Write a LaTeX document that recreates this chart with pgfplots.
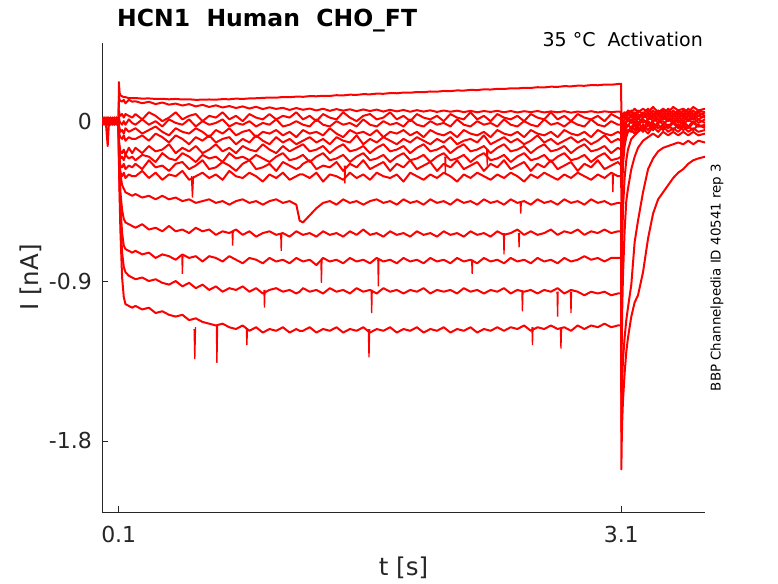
\documentclass[border=0pt]{standalone}
\usepackage{fontspec}
\setmainfont{DejaVu Sans}
\usepackage{pgfplots}
\usepackage{pgfplotstable}
\pgfplotsset{compat=1.18}
\definecolor{axgray}{HTML}{262626}
\pgfplotsset{tr/.style={color=red, line width=2pt, mark=none, solid, line join=round}}
\pgfplotsset{sp/.style={color=red, line width=1.3pt, mark=none, solid}}

\pgfplotstableread{
t a1 a2 a3 a4 a5 a6 a7 a8 a9 a10 e d c b aa
0.000 0.01 0.00 -0.01 0.02 -0.01 0.01 -0.02 0.00 0.01 -0.01 0.02 -0.01 0.00 0.01 -0.02
0.012 -0.01 0.02 0.01 -0.01 0.00 -0.02 0.01 0.02 -0.01 0.00 -0.01 0.01 0.02 -0.01 0.00
0.024 0.02 -0.01 0.00 0.01 -0.02 0.00 0.02 -0.01 0.00 0.02 0.00 -0.02 0.01 0.00 0.01
0.034 0.00 0.01 -0.02 0.00 -0.14 0.01 -0.01 0.01 0.02 -0.02 0.01 0.00 -0.01 0.02 -0.01
0.040 0.01 -0.02 0.01 0.02 -0.03 -0.01 0.00 -0.02 0.01 0.01 -0.01 0.02 0.00 -0.01 0.01
0.050 -0.02 0.01 0.02 -0.01 0.01 0.02 -0.01 0.00 -0.02 0.00 0.01 -0.01 0.02 0.01 -0.01
0.062 0.01 0.00 -0.01 0.01 0.00 -0.01 0.02 0.01 0.00 -0.02 0.00 0.01 -0.02 0.00 0.02
0.074 0.00 0.02 0.01 -0.02 0.02 0.00 -0.01 -0.01 0.02 0.01 -0.02 0.00 0.01 -0.01 0.00
0.086 0.02 -0.01 0.00 0.01 -0.01 0.02 0.00 0.02 -0.01 0.00 0.01 -0.02 0.00 0.02 -0.01
0.0995 0.00 0.01 -0.01 0.00 0.01 -0.01 0.01 0.00 0.01 -0.01 0.00 0.01 -0.01 0.00 0.01
0.1005 0.22 0.14 0.06 0.02 -0.02 -0.05 -0.10 -0.12 -0.15 -0.18 -0.10 -0.12 -0.14 -0.16 -0.20
0.105 0.16 0.12 0.04 0.00 -0.04 -0.08 -0.14 -0.18 -0.22 -0.26 -0.22 -0.28 -0.32 -0.36 -0.42
0.110 0.145 0.115 0.03 -0.01 -0.06 -0.09 -0.17 -0.21 -0.25 -0.29 -0.30 -0.40 -0.48 -0.55 -0.62
0.120 0.14 0.11 0.04 -0.02 -0.05 -0.10 -0.18 -0.20 -0.26 -0.31 -0.36 -0.50 -0.63 -0.74 -0.88
0.130 0.135 0.12 0.02 0.00 -0.07 -0.08 -0.16 -0.22 -0.24 -0.29 -0.38 -0.55 -0.70 -0.82 -0.99
0.140 0.135 0.10 0.04 -0.02 -0.04 -0.11 -0.19 -0.19 -0.27 -0.32 -0.40 -0.57 -0.72 -0.85 -1.03
0.160 0.13 0.12 0.03 0.01 -0.06 -0.09 -0.15 -0.21 -0.25 -0.30 -0.41 -0.58 -0.73 -0.87 -1.04
0.180 0.13 0.11 0.02 -0.01 -0.05 -0.10 -0.18 -0.20 -0.26 -0.31 -0.42 -0.59 -0.74 -0.88 -1.05
0.20 0.130 0.112 0.04 -0.02 -0.04 -0.10 -0.15 -0.22 -0.24 -0.31 -0.41 -0.60 -0.73 -0.89 -1.04
0.24 0.127 0.101 0.01 0.01 -0.07 -0.08 -0.18 -0.19 -0.27 -0.28 -0.43 -0.58 -0.75 -0.88 -1.06
0.28 0.128 0.109 0.05 -0.02 -0.05 -0.11 -0.14 -0.20 -0.22 -0.32 -0.42 -0.61 -0.74 -0.90 -1.05
0.32 0.125 0.096 0.03 0.00 -0.03 -0.07 -0.17 -0.23 -0.26 -0.29 -0.44 -0.60 -0.77 -0.89 -1.08
0.36 0.126 0.105 0.00 -0.03 -0.06 -0.09 -0.16 -0.18 -0.25 -0.33 -0.42 -0.62 -0.75 -0.91 -1.07
0.40 0.123 0.093 0.02 0.01 -0.08 -0.12 -0.13 -0.21 -0.28 -0.30 -0.44 -0.59 -0.76 -0.92 -1.09
0.44 0.125 0.099 0.05 -0.01 -0.04 -0.08 -0.18 -0.22 -0.24 -0.31 -0.43 -0.62 -0.78 -0.90 -1.10
0.48 0.122 0.088 0.01 -0.02 -0.06 -0.10 -0.15 -0.18 -0.23 -0.28 -0.45 -0.61 -0.75 -0.93 -1.09
0.52 0.123 0.096 0.03 0.01 -0.07 -0.13 -0.17 -0.20 -0.27 -0.33 -0.44 -0.63 -0.77 -0.91 -1.12
0.56 0.120 0.083 0.04 -0.03 -0.04 -0.09 -0.14 -0.23 -0.25 -0.31 -0.46 -0.60 -0.76 -0.94 -1.11
0.60 0.121 0.092 0.00 0.00 -0.06 -0.11 -0.18 -0.19 -0.22 -0.29 -0.45 -0.62 -0.79 -0.92 -1.13
0.64 0.122 0.080 0.03 -0.02 -0.09 -0.08 -0.16 -0.21 -0.27 -0.32 -0.44 -0.61 -0.76 -0.95 -1.14
0.68 0.121 0.089 0.02 -0.01 -0.05 -0.12 -0.13 -0.20 -0.26 -0.30 -0.46 -0.64 -0.77 -0.93 -1.15
0.72 0.124 0.077 0.05 0.01 -0.07 -0.10 -0.17 -0.23 -0.23 -0.33 -0.45 -0.62 -0.79 -0.96 -1.14
0.76 0.123 0.085 0.01 -0.03 -0.04 -0.09 -0.15 -0.18 -0.25 -0.28 -0.47 -0.63 -0.76 -0.94 -1.16
0.80 0.127 0.074 0.03 -0.01 -0.08 -0.13 -0.18 -0.21 -0.28 -0.31 -0.45 -0.61 -0.78 -0.95 -1.17
0.84 0.125 0.083 0.00 -0.02 -0.06 -0.10 -0.14 -0.20 -0.24 -0.32 -0.44 -0.64 -0.80 -0.93 -1.15
0.88 0.128 0.071 0.04 0.00 -0.05 -0.12 -0.16 -0.22 -0.22 -0.29 -0.46 -0.62 -0.77 -0.96 -1.18
0.92 0.129 0.081 0.02 -0.03 -0.09 -0.08 -0.17 -0.19 -0.27 -0.31 -0.45 -0.65 -0.78 -0.94 -1.16
0.96 0.131 0.068 0.01 -0.01 -0.06 -0.11 -0.13 -0.21 -0.26 -0.34 -0.47 -0.63 -0.80 -0.97 -1.19
1.00 0.133 0.078 0.04 -0.02 -0.07 -0.13 -0.16 -0.23 -0.24 -0.30 -0.45 -0.62 -0.77 -0.95 -1.17
1.04 0.132 0.069 0.01 0.01 -0.05 -0.09 -0.18 -0.20 -0.28 -0.32 -0.44 -0.64 -0.79 -0.94 -1.18
1.08 0.136 0.075 0.03 -0.03 -0.08 -0.12 -0.14 -0.18 -0.23 -0.29 -0.46 -0.63 -0.78 -0.96 -1.16
1.12 0.135 0.063 0.02 -0.02 -0.06 -0.10 -0.17 -0.22 -0.25 -0.33 -0.45 -0.65 -0.80 -0.95 -1.19
1.16 0.138 0.074 0.05 0.00 -0.09 -0.13 -0.15 -0.21 -0.27 -0.31 -0.47 -0.62 -0.77 -0.97 -1.17
1.18 0.138 0.069 0.03 -0.01 -0.07 -0.12 -0.14 -0.20 -0.26 -0.30 -0.56 -0.63 -0.78 -0.96 -1.18
1.20 0.137 0.064 0.01 -0.02 -0.05 -0.11 -0.13 -0.19 -0.24 -0.30 -0.57 -0.64 -0.79 -0.94 -1.18
1.24 0.141 0.071 0.03 -0.03 -0.07 -0.09 -0.17 -0.23 -0.22 -0.32 -0.53 -0.63 -0.78 -0.96 -1.16
1.28 0.140 0.060 0.00 0.01 -0.06 -0.12 -0.16 -0.20 -0.27 -0.29 -0.49 -0.65 -0.81 -0.95 -1.19
1.32 0.143 0.070 0.04 -0.02 -0.08 -0.10 -0.14 -0.18 -0.25 -0.34 -0.46 -0.62 -0.77 -0.97 -1.17
1.36 0.142 0.058 0.02 -0.03 -0.04 -0.13 -0.18 -0.22 -0.26 -0.30 -0.45 -0.64 -0.79 -0.94 -1.18
1.40 0.146 0.068 0.01 0.00 -0.07 -0.09 -0.15 -0.21 -0.23 -0.31 -0.47 -0.63 -0.78 -0.96 -1.16
1.44 0.145 0.059 0.05 -0.02 -0.09 -0.11 -0.13 -0.19 -0.28 -0.33 -0.44 -0.65 -0.80 -0.95 -1.19
1.48 0.149 0.067 0.02 -0.01 -0.05 -0.12 -0.17 -0.23 -0.24 -0.29 -0.46 -0.62 -0.77 -0.97 -1.17
1.52 0.148 0.056 0.00 -0.03 -0.07 -0.08 -0.16 -0.20 -0.26 -0.32 -0.45 -0.64 -0.79 -0.94 -1.18
1.56 0.152 0.066 0.03 0.01 -0.06 -0.13 -0.14 -0.18 -0.22 -0.30 -0.47 -0.61 -0.78 -0.96 -1.16
1.60 0.151 0.057 0.04 -0.02 -0.08 -0.10 -0.18 -0.22 -0.27 -0.33 -0.45 -0.64 -0.80 -0.95 -1.19
1.64 0.155 0.065 0.01 -0.03 -0.05 -0.12 -0.15 -0.21 -0.25 -0.29 -0.44 -0.63 -0.77 -0.97 -1.17
1.68 0.154 0.054 0.02 0.00 -0.09 -0.09 -0.13 -0.19 -0.23 -0.31 -0.46 -0.65 -0.79 -0.94 -1.18
1.72 0.158 0.064 0.05 -0.02 -0.06 -0.11 -0.17 -0.23 -0.28 -0.32 -0.45 -0.62 -0.78 -0.96 -1.16
1.76 0.157 0.055 0.01 -0.01 -0.07 -0.13 -0.16 -0.20 -0.24 -0.30 -0.47 -0.64 -0.80 -0.95 -1.19
1.80 0.161 0.063 0.03 -0.03 -0.05 -0.10 -0.14 -0.18 -0.26 -0.34 -0.44 -0.63 -0.77 -0.97 -1.17
1.84 0.160 0.053 0.00 0.01 -0.08 -0.12 -0.18 -0.22 -0.22 -0.29 -0.46 -0.65 -0.79 -0.95 -1.18
1.88 0.164 0.062 0.04 -0.02 -0.06 -0.09 -0.15 -0.21 -0.27 -0.31 -0.45 -0.62 -0.78 -0.96 -1.16
1.92 0.163 0.054 0.02 -0.03 -0.09 -0.11 -0.13 -0.19 -0.25 -0.33 -0.47 -0.64 -0.80 -0.94 -1.19
1.96 0.167 0.061 0.01 0.00 -0.05 -0.13 -0.17 -0.23 -0.23 -0.30 -0.44 -0.63 -0.77 -0.97 -1.17
2.00 0.166 0.052 0.03 -0.02 -0.07 -0.10 -0.16 -0.20 -0.28 -0.32 -0.46 -0.65 -0.79 -0.95 -1.18
2.04 0.170 0.060 0.00 -0.01 -0.08 -0.12 -0.14 -0.18 -0.24 -0.29 -0.45 -0.62 -0.78 -0.96 -1.16
2.08 0.169 0.053 0.04 -0.03 -0.06 -0.09 -0.18 -0.22 -0.26 -0.31 -0.47 -0.64 -0.80 -0.95 -1.19
2.12 0.173 0.059 0.02 0.01 -0.09 -0.13 -0.15 -0.21 -0.22 -0.34 -0.44 -0.63 -0.77 -0.97 -1.17
2.16 0.172 0.051 0.01 -0.02 -0.05 -0.11 -0.13 -0.19 -0.27 -0.30 -0.46 -0.65 -0.79 -0.94 -1.18
2.20 0.176 0.058 0.05 -0.03 -0.07 -0.10 -0.17 -0.23 -0.25 -0.32 -0.45 -0.62 -0.78 -0.96 -1.16
2.24 0.175 0.050 0.01 0.00 -0.08 -0.12 -0.16 -0.20 -0.23 -0.29 -0.47 -0.64 -0.80 -0.95 -1.19
2.28 0.179 0.057 0.03 -0.02 -0.06 -0.08 -0.14 -0.18 -0.28 -0.31 -0.44 -0.63 -0.77 -0.97 -1.17
2.32 0.178 0.052 0.00 -0.01 -0.09 -0.13 -0.18 -0.22 -0.24 -0.33 -0.46 -0.65 -0.79 -0.95 -1.18
2.36 0.182 0.058 0.04 -0.03 -0.05 -0.11 -0.15 -0.21 -0.26 -0.30 -0.45 -0.62 -0.78 -0.96 -1.16
2.40 0.181 0.050 0.02 0.01 -0.07 -0.09 -0.13 -0.19 -0.22 -0.32 -0.47 -0.64 -0.80 -0.94 -1.18
2.44 0.185 0.057 0.01 -0.02 -0.08 -0.12 -0.17 -0.23 -0.27 -0.29 -0.44 -0.63 -0.77 -0.97 -1.16
2.48 0.184 0.049 0.03 -0.03 -0.06 -0.10 -0.16 -0.20 -0.25 -0.31 -0.46 -0.61 -0.79 -0.95 -1.17
2.52 0.188 0.056 0.00 0.00 -0.09 -0.13 -0.14 -0.18 -0.23 -0.34 -0.45 -0.64 -0.78 -0.96 -1.15
2.56 0.187 0.051 0.04 -0.02 -0.05 -0.11 -0.18 -0.22 -0.28 -0.30 -0.47 -0.62 -0.80 -0.95 -1.18
2.60 0.191 0.057 0.02 -0.03 -0.07 -0.08 -0.15 -0.21 -0.24 -0.32 -0.44 -0.64 -0.77 -0.97 -1.16
2.64 0.190 0.049 0.01 0.01 -0.08 -0.12 -0.13 -0.19 -0.26 -0.29 -0.46 -0.63 -0.79 -0.95 -1.17
2.68 0.194 0.055 0.05 -0.02 -0.06 -0.10 -0.17 -0.23 -0.22 -0.31 -0.45 -0.61 -0.78 -0.96 -1.15
2.72 0.193 0.050 0.01 -0.01 -0.09 -0.13 -0.16 -0.20 -0.27 -0.33 -0.47 -0.64 -0.80 -0.94 -1.17
2.76 0.197 0.056 0.03 -0.03 -0.05 -0.11 -0.14 -0.18 -0.25 -0.30 -0.44 -0.62 -0.77 -0.97 -1.16
2.80 0.196 0.048 0.00 0.00 -0.07 -0.09 -0.18 -0.22 -0.23 -0.32 -0.46 -0.63 -0.79 -0.95 -1.18
2.84 0.200 0.054 0.04 -0.02 -0.08 -0.12 -0.15 -0.21 -0.28 -0.29 -0.45 -0.61 -0.78 -0.96 -1.15
2.88 0.199 0.050 0.02 -0.03 -0.06 -0.10 -0.13 -0.19 -0.24 -0.31 -0.47 -0.64 -0.76 -0.98 -1.17
2.92 0.203 0.056 0.01 0.01 -0.09 -0.13 -0.17 -0.23 -0.26 -0.33 -0.44 -0.62 -0.78 -0.96 -1.15
2.96 0.202 0.049 0.03 -0.02 -0.05 -0.11 -0.16 -0.20 -0.22 -0.30 -0.46 -0.63 -0.77 -0.97 -1.16
3.00 0.206 0.055 0.00 -0.03 -0.07 -0.08 -0.14 -0.18 -0.27 -0.32 -0.45 -0.61 -0.79 -0.96 -1.14
3.04 0.205 0.051 0.04 0.00 -0.08 -0.12 -0.18 -0.22 -0.25 -0.29 -0.47 -0.63 -0.77 -0.98 -1.16
3.08 0.209 0.054 0.02 -0.02 -0.06 -0.10 -0.15 -0.21 -0.23 -0.31 -0.46 -0.62 -0.77 -0.97 -1.15
3.0995 0.210 0.052 0.01 -0.02 -0.07 -0.11 -0.16 -0.20 -0.25 -0.31 -0.46 -0.62 -0.77 -0.97 -1.15
3.1005 0.00 -0.05 -0.08 -0.12 -0.16 -0.20 -0.26 -0.30 -0.36 -0.45 -0.90 -1.20 -1.50 -1.75 -1.96
3.103 0.02 0.00 -0.03 -0.06 -0.09 -0.12 -0.16 -0.19 -0.24 -0.30 -0.60 -0.90 -1.25 -1.55 -1.80
3.106 0.03 0.02 0.00 -0.03 -0.05 -0.07 -0.10 -0.13 -0.16 -0.20 -0.40 -0.70 -1.05 -1.45 -1.68
3.110 0.04 0.03 0.02 -0.01 -0.02 -0.04 -0.06 -0.08 -0.11 -0.14 -0.25 -0.50 -0.88 -1.35 -1.58
3.120 0.05 0.02 0.04 0.01 -0.01 -0.02 -0.04 -0.05 -0.07 -0.09 -0.14 -0.32 -0.62 -1.22 -1.42
3.130 0.04 0.05 0.01 0.03 0.00 -0.01 -0.02 -0.04 -0.05 -0.07 -0.09 -0.22 -0.45 -1.12 -1.30
3.140 0.06 0.03 0.05 0.00 0.02 0.01 -0.03 -0.02 -0.06 -0.05 -0.06 -0.16 -0.38 -1.05 -1.22
3.160 0.05 0.06 0.02 0.04 0.00 -0.01 0.01 -0.04 -0.03 -0.06 -0.05 -0.10 -0.27 -0.92 -1.10
3.180 0.07 0.03 0.05 0.01 0.03 0.02 -0.02 0.00 -0.05 -0.02 -0.07 -0.08 -0.20 -0.68 -1.02
3.200 0.05 0.06 0.02 0.04 0.01 -0.01 0.02 -0.03 -0.01 -0.05 -0.03 -0.06 -0.15 -0.56 -0.98
3.230 0.07 0.04 0.05 0.02 0.04 0.02 -0.01 0.01 -0.04 -0.02 -0.06 -0.04 -0.11 -0.40 -0.85
3.260 0.05 0.07 0.03 0.05 0.01 0.03 0.01 -0.02 0.00 -0.05 -0.02 -0.07 -0.09 -0.27 -0.66
3.290 0.08 0.04 0.06 0.02 0.04 0.00 0.02 0.00 -0.03 -0.01 -0.05 -0.03 -0.07 -0.21 -0.52
3.320 0.05 0.06 0.03 0.05 0.01 0.03 -0.01 0.01 -0.01 -0.04 -0.02 -0.06 -0.09 -0.17 -0.44
3.350 0.07 0.04 0.06 0.02 0.04 0.01 0.02 -0.02 0.00 -0.02 -0.05 -0.03 -0.06 -0.15 -0.40
3.380 0.05 0.07 0.03 0.05 0.01 0.03 0.00 0.01 -0.03 -0.04 -0.02 -0.06 -0.08 -0.14 -0.36
3.410 0.08 0.04 0.06 0.02 0.04 0.00 0.02 -0.01 0.00 -0.01 -0.05 -0.04 -0.06 -0.13 -0.32
3.440 0.06 0.06 0.03 0.05 0.01 0.03 -0.01 0.01 -0.03 -0.04 -0.02 -0.06 -0.08 -0.12 -0.29
3.470 0.07 0.04 0.06 0.02 0.04 0.00 0.02 -0.02 0.00 -0.02 -0.05 -0.03 -0.06 -0.13 -0.27
3.500 0.05 0.07 0.03 0.05 0.01 0.03 0.00 0.01 -0.03 -0.04 -0.03 -0.06 -0.08 -0.11 -0.24
3.530 0.08 0.04 0.06 0.02 0.04 0.01 0.02 -0.01 0.00 -0.01 -0.05 -0.04 -0.06 -0.13 -0.22
3.560 0.06 0.06 0.03 0.05 0.01 0.03 -0.01 0.01 -0.03 -0.03 -0.02 -0.06 -0.08 -0.11 -0.21
3.600 0.07 0.05 0.05 0.03 0.03 0.02 0.01 -0.01 -0.02 -0.03 -0.04 -0.05 -0.07 -0.12 -0.20
}\traces

\begin{document}
\begin{tikzpicture}
\path[use as bounding box] (0,0) rectangle (778pt,583pt);
\begin{axis}[
  at={(102pt,71pt)}, anchor=south west,
  scale only axis, width=603pt, height=469pt,
  xmin=0, xmax=3.6, ymin=-2.2, ymax=0.44,
  axis x line=bottom, axis y line=left,
  axis line style={-, draw=axgray, line width=0.8pt},
  xtick={0.1,3.1}, xticklabels={0.1,3.1},
  ytick={-1.8,-0.9,0}, yticklabels={-1.8,-0.9,{0\hspace{22pt}}},
  tick align=inside, major tick length=6pt,
  tick style={draw=axgray, line width=0.8pt},
  /pgf/number format/assume math mode=true,
  ticklabel style={font=\fontsize{22}{24}\selectfont, text=axgray, inner sep=0pt},
  xticklabel style={anchor=north, yshift=-14pt},
  yticklabel style={anchor=east, xshift=-10pt},
  xlabel={t [s]}, ylabel={I [nA]},
  label style={font=\fontsize{24.5}{26}\selectfont, text=axgray, inner sep=0pt},
  xlabel style={at={(axis description cs:0.5,-0.096)}, anchor=north},
  ylabel style={at={(axis description cs:-0.1,0.5)}, anchor=south},
  clip=true,
]
\addplot[tr] table[x=t,y=a1]{\traces};
\addplot[tr] table[x=t,y=a2]{\traces};
\addplot[tr] table[x=t,y=a3]{\traces};
\addplot[tr] table[x=t,y=a4]{\traces};
\addplot[tr] table[x=t,y=a5]{\traces};
\addplot[tr] table[x=t,y=a6]{\traces};
\addplot[tr] table[x=t,y=a7]{\traces};
\addplot[tr] table[x=t,y=a8]{\traces};
\addplot[tr] table[x=t,y=a9]{\traces};
\addplot[tr] table[x=t,y=a10]{\traces};
\addplot[tr] table[x=t,y=e]{\traces};
\addplot[tr] table[x=t,y=d]{\traces};
\addplot[tr] table[x=t,y=c]{\traces};
\addplot[tr] table[x=t,y=b]{\traces};
\addplot[tr] table[x=t,y=aa]{\traces};
% short downward spikes
\addplot[sp] coordinates {(0.550,-1.17) (0.554,-1.34) (0.558,-1.16)};
\addplot[sp] coordinates {(0.683,-1.15) (0.686,-1.36) (0.690,-1.15)};
\addplot[sp] coordinates {(0.862,-1.17) (0.865,-1.26) (0.868,-1.17)};
\addplot[sp] coordinates {(1.590,-1.17) (1.594,-1.33) (1.598,-1.17)};
\addplot[sp] coordinates {(2.567,-1.16) (2.570,-1.26) (2.573,-1.16)};
\addplot[sp] coordinates {(2.737,-1.17) (2.740,-1.28) (2.743,-1.17)};
\addplot[sp] coordinates {(0.967,-0.95) (0.970,-1.05) (0.973,-0.95)};
\addplot[sp] coordinates {(1.607,-0.95) (1.610,-1.08) (1.613,-0.95)};
\addplot[sp] coordinates {(2.507,-0.96) (2.510,-1.07) (2.513,-0.96)};
\addplot[sp] coordinates {(2.717,-0.96) (2.720,-1.10) (2.723,-0.96)};
\addplot[sp] coordinates {(2.797,-0.96) (2.800,-1.08) (2.803,-0.96)};
\addplot[sp] coordinates {(0.477,-0.76) (0.480,-0.86) (0.483,-0.76)};
\addplot[sp] coordinates {(1.307,-0.78) (1.310,-0.91) (1.313,-0.78)};
\addplot[sp] coordinates {(1.647,-0.78) (1.650,-0.93) (1.653,-0.78)};
\addplot[sp] coordinates {(2.207,-0.78) (2.210,-0.86) (2.213,-0.78)};
\addplot[sp] coordinates {(0.777,-0.62) (0.780,-0.70) (0.783,-0.62)};
\addplot[sp] coordinates {(1.067,-0.63) (1.070,-0.73) (1.073,-0.63)};
\addplot[sp] coordinates {(2.397,-0.63) (2.400,-0.75) (2.403,-0.63)};
\addplot[sp] coordinates {(2.487,-0.63) (2.490,-0.71) (2.493,-0.63)};
\addplot[sp] coordinates {(2.497,-0.46) (2.500,-0.52) (2.503,-0.46)};
\addplot[sp] coordinates {(0.534,-0.31) (0.540,-0.43) (0.546,-0.31)};
\addplot[sp] coordinates {(3.047,-0.30) (3.050,-0.40) (3.053,-0.30)};
\addplot[sp] coordinates {(1.447,-0.25) (1.450,-0.35) (1.453,-0.25)};
\addplot[sp] coordinates {(2.047,-0.20) (2.050,-0.30) (2.053,-0.20)};
\addplot[sp] coordinates {(2.297,-0.16) (2.300,-0.25) (2.303,-0.16)};
\end{axis}
\node[anchor=base west, font=\fontsize{23.5}{26}\selectfont\bfseries, text=black, inner sep=0pt] at (117pt,556pt) {HCN1\ \ Human\ \ CHO\_FT};
\node[anchor=base east, font=\fontsize{19}{21}\selectfont, text=black, inner sep=0pt] at (703pt,536pt) {35 °C\ \ Activation};
\node[rotate=90, font=\fontsize{13.4}{15}\selectfont, text=black, inner sep=0pt] at (717pt,305.5pt) {BBP Channelpedia ID 40541 rep 3};
\end{tikzpicture}
\end{document}
